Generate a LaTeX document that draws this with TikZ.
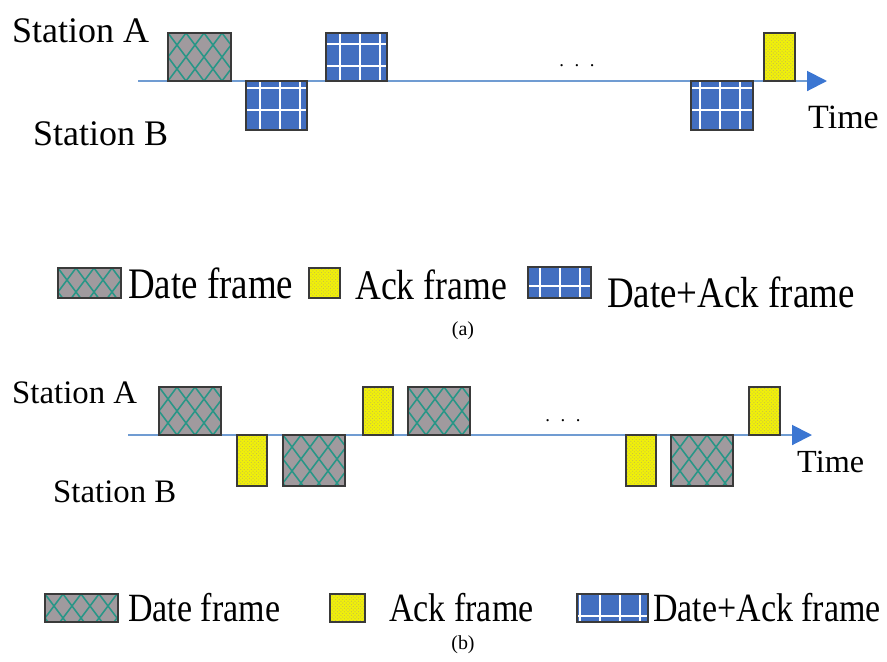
\documentclass[tikz,border=0pt]{standalone}
\usepackage{fontspec}
\setmainfont{Liberation Serif}
\usetikzlibrary{arrows.meta,patterns}
\definecolor{axisblue}{RGB}{112,156,210}
\definecolor{tipblue}{RGB}{59,118,210}
\definecolor{edgegray}{RGB}{58,58,58}
\definecolor{datagray}{RGB}{160,154,158}
\definecolor{hatchteal}{RGB}{40,150,135}
\definecolor{ackyellow}{RGB}{240,240,10}
\definecolor{dotolive}{RGB}{200,190,70}
\definecolor{gridblue}{RGB}{66,110,192}
\newcommand{\fs}[1]{\fontsize{#1}{#1}\selectfont}
\newcommand{\tall}[1]{\scalebox{1}[1.18]{#1}}
\tikzset{
  datbox/.style={draw=edgegray,line width=1.5pt,fill=datagray,
    path picture={\foreach \k in {-3,...,8}
      \draw[hatchteal,line width=1.3pt,shift={(path picture bounding box.north west)}]
        (\k*18,0)--++(45,60) (\k*18,0)--++(-45,60);}},
  ackbox/.style={draw=edgegray,line width=1.5pt,preaction={fill=ackyellow},
    pattern=crosshatch dots,pattern color=dotolive},
  dabox/.style={draw=edgegray,line width=1.5pt,fill=gridblue,
    path picture={\draw[white,line width=1.6pt,xstep=0.6cm,ystep=0.66cm]
      (path picture bounding box.south west) grid (path picture bounding box.north east);}},
  axisline/.style={axisblue,line width=1.7pt},
  legtext/.style={anchor=base west,inner sep=0pt},
}
\begin{document}
\begin{tikzpicture}[x=0.03cm,y=-0.03cm,>={Triangle[length=17pt,width=17pt,color=tipblue]}]
\useasboundingbox (0,0) rectangle (887,661);
% (a)
\coordinate (ta0) at (138,81);
\coordinate (ta1) at (827,81);
\draw[axisline,->] (ta0)--(ta1);
\node[legtext,font=\fs{30.7}] (staA) at (12,42) {Station A};
\node[legtext,font=\fs{30.7}] (staB) at (33,145) {Station B};
\node[legtext,font=\fs{29}] (timea) at (808,128) {Time};
\node[font=\fs{16}] (dotsa) at (577,66) {.\hspace{9pt}.\hspace{9pt}.};
\draw[datbox] (168,33) rectangle (231,81);
\draw[dabox] (246,81) rectangle (307,130);
\draw[dabox] (326,33) rectangle (387,81);
\draw[dabox] (691,81) rectangle (753,130);
\draw[ackbox] (764,33) rectangle (795,81);
\draw[datbox] (58,268) rectangle (121,298);
\node[legtext,font=\fs{31.5}] (ldata) at (128,298) {\tall{Date frame}};
\draw[ackbox] (309,268) rectangle (340,298);
\node[legtext,font=\fs{30.5}] (lack) at (355,299) {\tall{Ack frame}};
\draw[dabox] (528,267) rectangle (591,298);
\node[legtext,font=\fs{31.5}] (lboth) at (607,307) {\tall{Date+Ack frame}};
\node[font=\fs{17}] (capa) at (463,331) {(a)};
% (b)
\coordinate (tb0) at (128,435);
\coordinate (tb1) at (812,435);
\draw[axisline,->] (tb0)--(tb1);
\node[legtext,font=\fs{28}] (stbA) at (12,403) {Station A};
\node[legtext,font=\fs{28}] (stbB) at (53,502) {Station B};
\node[legtext,font=\fs{27.5}] (timeb) at (797,472) {Time};
\node[font=\fs{16}] (dotsb) at (563,421) {.\hspace{9pt}.\hspace{9pt}.};
\draw[datbox] (159,387) rectangle (221,435);
\draw[ackbox] (237,435) rectangle (267,486);
\draw[datbox] (283,435) rectangle (345,486);
\draw[ackbox] (363,387) rectangle (393,435);
\draw[datbox] (408,387) rectangle (470,435);
\draw[ackbox] (626,435) rectangle (656,486);
\draw[datbox] (671,435) rectangle (733,486);
\draw[ackbox] (749,387) rectangle (780,435);
\draw[datbox] (45,594) rectangle (118,622);
\node[legtext,font=\fs{29}] (mdata) at (128,621) {\tall{Date frame}};
\draw[ackbox] (330,594) rectangle (365,622);
\node[legtext,font=\fs{29}] (mack) at (389,621) {\tall{Ack frame}};
\draw[dabox] (577,594) rectangle (648,622);
\node[legtext,font=\fs{29}] (mboth) at (653,621) {\tall{Date+Ack frame}};
\node[font=\fs{17}] (capb) at (463,645) {(b)};
\end{tikzpicture}
\end{document}
